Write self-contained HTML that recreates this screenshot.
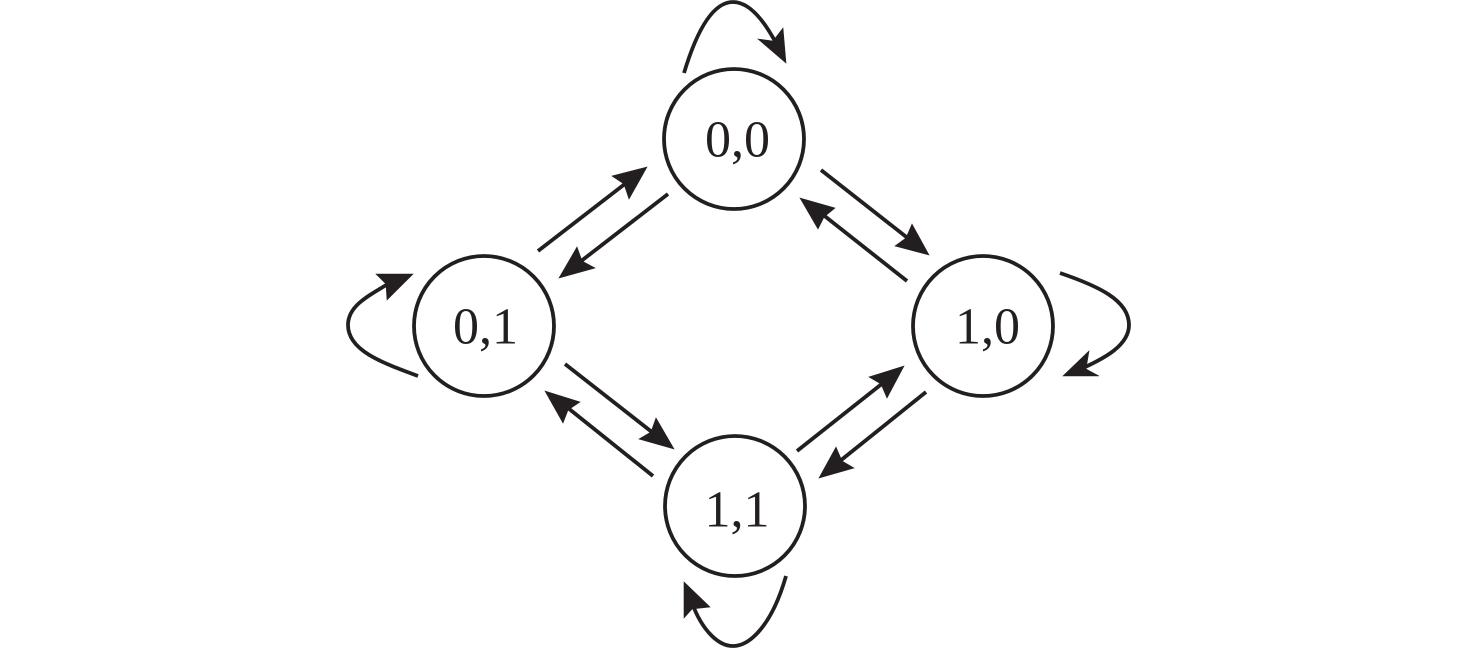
<!DOCTYPE html>
<html><head><meta charset="utf-8"><style>html,body{margin:0;padding:0;background:#fff;width:1476px;height:648px;overflow:hidden}svg{display:block}text{font-family:"Liberation Serif",serif;font-size:52px;fill:#231f20;text-anchor:middle}</style></head>
<body><svg width="1476" height="648" viewBox="0 0 1476 648">
<g fill="none" stroke="#231f20" stroke-width="3.8">
<circle cx="734" cy="139" r="70"/><circle cx="484" cy="326" r="70"/><circle cx="983" cy="326" r="70"/><circle cx="735" cy="506" r="70"/>
<path d="M684,73 C697,30 713,2 733,2 C750,2 765,22 777,45"/>
<path d="M418,376 C380,362 348,350 348,325 C348,305 370,295 393,281"/>
<path d="M1060,273 C1098,286 1129,300 1129,325 C1129,345 1105,358 1083,368"/>
<path d="M786,576 C772,625 750,646 733,646 C718,646 702,630 692,603"/>
<path d="M538,251 L630,180"/><path d="M668,194 L576,265"/>
<path d="M821,170 L914,243"/><path d="M907,281 L817,210"/>
<path d="M565,364 L657,436"/><path d="M653,476 L563,404"/>
<path d="M797,451 L888,379"/><path d="M926,392 L835,465"/>
</g>
<g fill="#231f20" stroke="#231f20" stroke-width="0.6" stroke-linejoin="miter">
<polygon points="786,63 758,39 773,41 783,28"/>
<polygon points="413,274 376,274 386,284 387,300"/>
<polygon points="1063,376 1089,351 1086,369 1099,376"/>
<polygon points="684,582 684,618 692,609 710,607"/>
<polygon points="647,167 612,176 624,184 629,199"/>
<polygon points="559,278 577,247 582,261 595,268"/>
<polygon points="929,255 895,246 906,238 912,224"/>
<polygon points="800,198 835,208 824,217 818,229"/>
<polygon points="674,449 639,439 651,432 656,418"/>
<polygon points="545,391 580,402 568,410 563,423"/>
<polygon points="904,366 869,377 881,384 887,398"/>
<polygon points="819,478 836,447 842,461 854,468"/>
</g>
<text x="737.5" y="156.5">0,0</text><text x="485.5" y="343.5">0,1</text><text x="987.5" y="343.5">1,0</text><text x="737" y="526.5">1,1</text>
</svg></body></html>
